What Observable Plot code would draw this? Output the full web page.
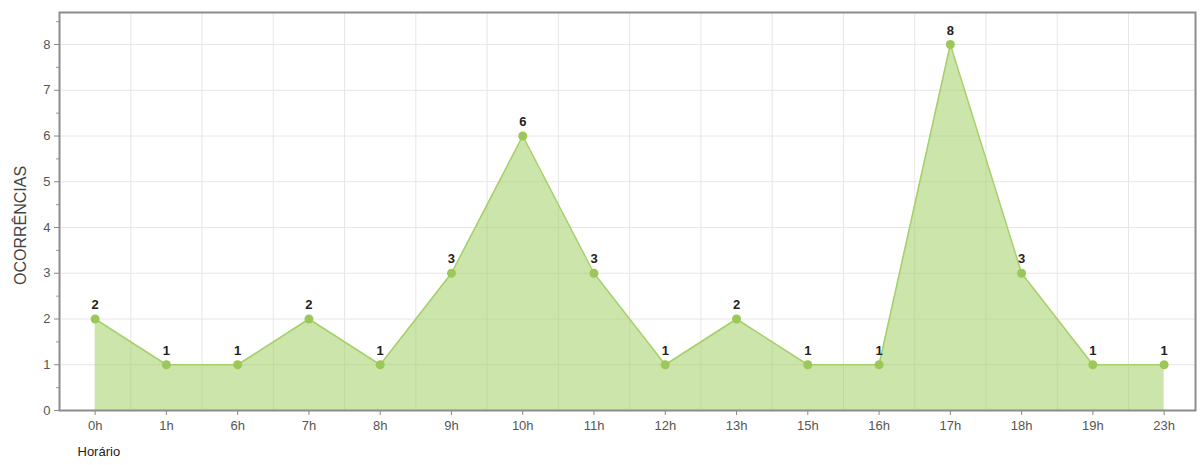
<!DOCTYPE html>
<html>
<head>
<meta charset="utf-8">
<script src="https://cdn.jsdelivr.net/npm/d3@7"></script>
<script src="https://cdn.jsdelivr.net/npm/@observablehq/plot@0.6"></script>
<style>
  html, body { margin: 0; padding: 0; background: #fff; }
  #chart { width: 1200px; height: 465px; }
</style>
</head>
<body>
<div id="chart"></div>
<script>
const hours = ["0h","1h","6h","7h","8h","9h","10h","11h","12h","13h","15h","16h","17h","18h","19h","23h"];
const occurrences = [2,1,1,2,1,3,6,3,1,2,1,1,8,3,1,1];
const yTicks = [0,1,2,3,4,5,6,7,8];
const yMinorTicks = [0.5,1.5,2.5,3.5,4.5,5.5,6.5,7.5,8.5];
const xAxisTitle = "Horário";
const yAxisTitle = "OCORRÊNCIAS";

const data = hours.map((h, i) => ({i, h, v: occurrences[i]}));
const idx = hours.map((_, i) => i);
const bounds = hours.map((_, i) => i + 0.5).slice(0, -1);

const chart = Plot.plot({
  width: 1200,
  height: 465,
  marginTop: 12,
  marginBottom: 55,
  marginLeft: 59,
  marginRight: 5,
  style: {fontFamily: "Arial, 'Liberation Sans', sans-serif", background: "#fff"},
  x: {domain: [-0.5, hours.length - 0.56]},
  y: {domain: [0, 8.7]},
  marks: [
    Plot.gridX(bounds, {stroke: "#e6e6e6", strokeOpacity: 1}),
    Plot.gridY(yTicks.slice(1), {stroke: "#e6e6e6", strokeOpacity: 1}),
    Plot.areaY(data, {x: "i", y: "v", fill: "#a3cf66", fillOpacity: 0.55}),
    Plot.lineY(data, {x: "i", y: "v", stroke: "#a6d06a", strokeWidth: 1.5}),
    Plot.dot(data, {x: "i", y: "v", fill: "#9cc85a", r: 4.5}),
    Plot.text(data, {x: "i", y: "v", text: "v", dy: -14, fontWeight: "bold", fontSize: 13, fill: "#222"}),
    Plot.axisY(yMinorTicks.filter(t => t < 8.7), {tickSize: 3, text: null, label: null, stroke: "#999"}),
    Plot.axisY(yTicks, {tickSize: 5, tickPadding: 4, label: null, fontSize: 13, color: "#555", stroke: "#888"}),
    Plot.axisX(idx, {tickFormat: i => hours[i], tickSize: 5, tickPadding: 5, label: null, fontSize: 13, color: "#555", stroke: "#888"}),
    Plot.frame({stroke: "#8c8c8c", strokeWidth: 2}),
    Plot.text([yAxisTitle], {frameAnchor: "left", textAnchor: "middle", dx: -39, dy: 14, rotate: -90, fontSize: 16, fill: "#444"}),
    Plot.text([xAxisTitle], {frameAnchor: "bottom-left", textAnchor: "start", dx: 18, dy: 45, fontSize: 13, fill: "#222"})
  ]
});
document.getElementById("chart").appendChild(chart);
</script>
</body>
</html>
